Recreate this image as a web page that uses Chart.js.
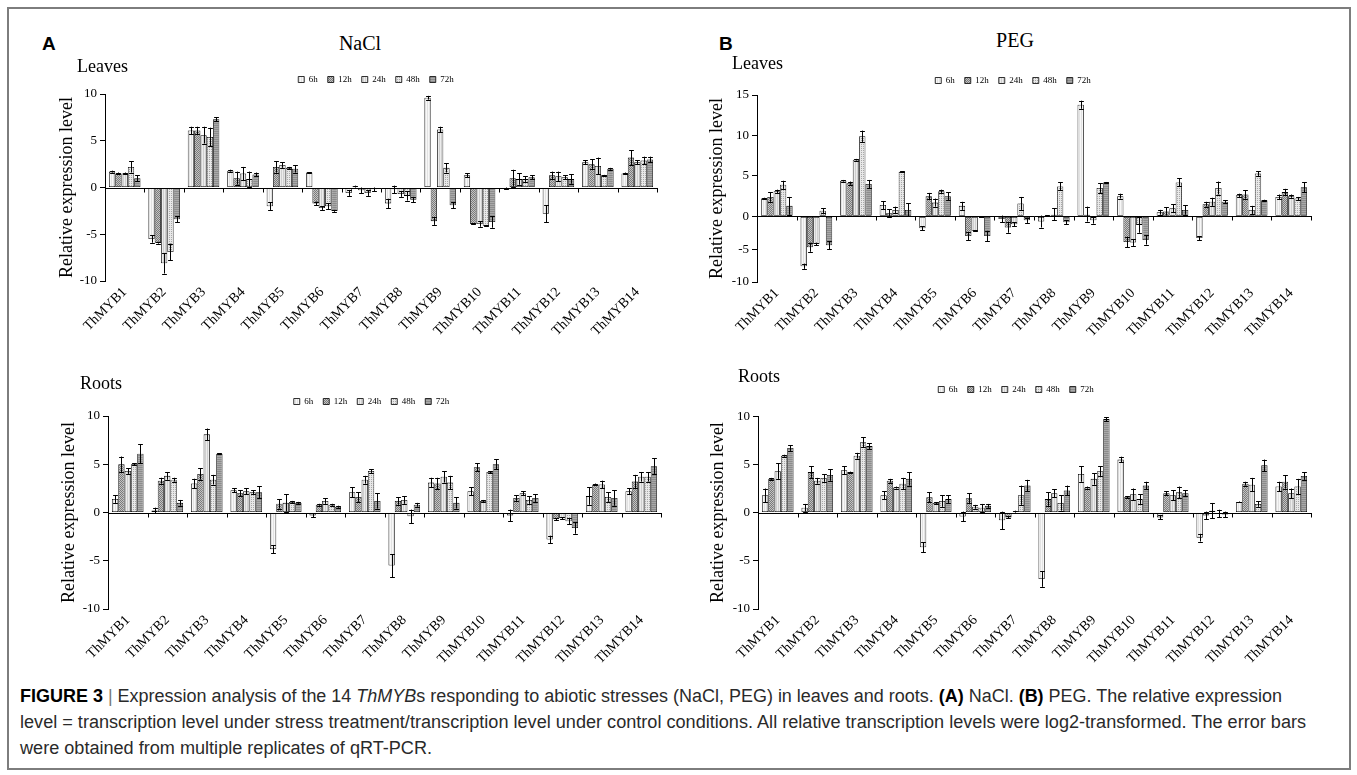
<!DOCTYPE html>
<html><head><meta charset="utf-8">
<script src="https://cdn.jsdelivr.net/npm/chart.js@4.4.1/dist/chart.umd.min.js"></script>
<style>
html,body{margin:0;padding:0;background:#fff;}
body{width:1357px;height:775px;position:relative;overflow:hidden;font-family:'Liberation Serif',serif;color:#000;}
.frame{position:absolute;left:7px;top:7px;width:1344px;height:763px;border:2px solid #7d7d7d;box-sizing:border-box;}
canvas{position:absolute;}
.t{position:absolute;white-space:nowrap;line-height:1;}
.c{transform:translate(-50%,-50%);}
.l{transform:translateY(-50%);}
.pl{font-family:'Liberation Sans',Arial,sans-serif;font-weight:bold;font-size:19px;}
.ttl{font-size:20px;}
.sub{font-size:18px;}
.cap{position:absolute;left:20px;white-space:nowrap;line-height:1;font-family:'Liberation Sans',Arial,sans-serif;font-size:18px;color:#2a2a2a;transform-origin:0 50%;}
.cap b{font-weight:bold;color:#000;}
.cap .bar{color:#777;}
</style></head>
<body>
<div class="frame"></div>
<canvas id="cAL" width="646" height="276" style="left:53px;top:65px"></canvas>
<canvas id="cAR" width="633" height="282" style="left:55px;top:387px"></canvas>
<canvas id="cBL" width="620" height="276" style="left:703px;top:66px"></canvas>
<canvas id="cBR" width="624" height="294" style="left:704px;top:375px"></canvas>

<div class="t l pl" style="left:42px;top:43px">A</div>
<div class="t c ttl" style="left:360px;top:43px">NaCl</div>
<div class="t l sub" style="left:77px;top:66px">Leaves</div>
<div class="t l sub" style="left:80px;top:383px">Roots</div>
<div class="t l pl" style="left:719px;top:43px">B</div>
<div class="t c ttl" style="left:1015px;top:40px">PEG</div>
<div class="t l sub" style="left:732px;top:63px">Leaves</div>
<div class="t l sub" style="left:738px;top:376px">Roots</div>

<div class="cap" id="cap1" style="top:687px"><b>FIGURE 3</b> <span class="bar">|</span> Expression analysis of the 14 <i>ThMYB</i>s responding to abiotic stresses (NaCl, PEG) in leaves and roots. <b>(A)</b> NaCl. <b>(B)</b> PEG. The relative expression</div>
<div class="cap" id="cap2" style="top:713px">level = transcription level under stress treatment/transcription level under control conditions. All relative transcription levels were log2-transformed. The error bars</div>
<div class="cap" id="cap3" style="top:739px">were obtained from multiple replicates of qRT-PCR.</div>

<script>
// ---------- data ----------
const categories = ['ThMYB1','ThMYB2','ThMYB3','ThMYB4','ThMYB5','ThMYB6','ThMYB7','ThMYB8','ThMYB9','ThMYB10','ThMYB11','ThMYB12','ThMYB13','ThMYB14'];
const timePoints = ['6h','12h','24h','48h','72h'];
const yRangeNaCl = [-10, 10];
const yRangePEGLeaves = [-10, 15];
const yRangePEGRoots = [-10, 10];

// rows = genes, columns = 6h,12h,24h,48h,72h
const naclLeaves = [
 [1.7,1.5,1.5,2.2,1.0],
 [-5.5,-5.9,-8.1,-6.9,-3.4],
 [6.1,6.1,5.6,5.4,7.3],
 [1.8,1.0,1.5,0.9,1.4],
 [-2.0,2.2,2.4,2.1,2.0],
 [1.6,-1.7,-2.2,-2.0,-2.5],
 [-0.6,0.1,-0.3,-0.6,-0.2],
 [-1.7,-0.2,-0.7,-0.9,-1.3],
 [9.6,-3.6,6.2,2.1,-1.9],
 [1.3,-3.9,-3.9,-4.1,-3.7],
 [-0.1,1.0,0.9,0.9,1.1],
 [-2.8,1.3,1.2,1.1,0.9],
 [2.7,2.5,2.3,1.3,2.0],
 [1.5,3.2,2.7,2.9,3.0]
];
const naclLeavesErr = [
 [0.1,0.1,0.1,0.6,0.3],
 [0.4,0.1,1.1,0.9,0.3],
 [0.4,0.4,0.9,1.0,0.2],
 [0.1,0.7,0.7,0.8,0.2],
 [0.4,0.6,0.3,0.1,0.4],
 [0.05,0.2,0.2,0.3,0.1],
 [0.3,0.1,0.3,0.3,0.2],
 [0.5,0.4,0.3,0.5,0.3],
 [0.2,0.4,0.3,0.5,0.3],
 [0.2,0.05,0.3,0.05,0.6],
 [0.1,0.9,0.6,0.3,0.2],
 [0.9,0.4,0.5,0.2,0.5],
 [0.2,0.5,0.9,0.05,0.1],
 [0.1,0.8,0.2,0.4,0.3]
];
const naclRoots = [
 [1.4,5.0,4.3,5.0,6.1],
 [0.2,3.3,3.8,3.4,1.0],
 [3.0,4.0,8.1,3.4,6.1],
 [2.3,2.0,2.2,2.1,2.1],
 [-3.8,0.9,1.0,1.1,1.0],
 [-0.3,0.8,1.2,0.8,0.6],
 [2.1,1.6,3.4,4.3,1.2],
 [-5.5,1.2,1.3,-0.4,0.8],
 [3.1,3.0,3.7,3.1,1.0],
 [2.2,4.7,1.2,4.2,5.0],
 [-0.3,1.5,2.0,1.3,1.5],
 [-2.8,-0.7,-0.6,-0.9,-1.6],
 [1.7,2.9,2.9,1.6,1.5],
 [2.2,3.2,3.7,3.7,4.8]
];
const naclRootsErr = [
 [0.4,0.8,0.3,0.1,1.0],
 [0.3,0.3,0.4,0.2,0.3],
 [0.5,0.6,0.6,0.5,0.05],
 [0.2,0.3,0.3,0.2,0.6],
 [0.4,0.5,0.9,0.1,0.1],
 [0.2,0.1,0.3,0.1,0.1],
 [0.5,0.5,0.4,0.2,0.8],
 [1.2,0.4,0.4,0.7,0.2],
 [0.5,0.6,0.6,0.7,0.6],
 [0.4,0.4,0.1,0.1,0.5],
 [0.6,0.3,0.2,0.4,0.4],
 [0.4,0.1,0.1,0.3,0.6],
 [0.9,0.1,0.4,0.5,0.8],
 [0.3,0.7,0.5,0.5,0.8]
];
const pegLeaves = [
 [2.2,2.4,3.1,3.9,1.3],
 [-7.6,-4.7,-4.2,0.7,-4.4],
 [4.4,4.1,7.0,9.9,4.0],
 [1.4,0.4,0.8,5.5,0.8],
 [-1.8,2.5,1.7,3.1,2.5],
 [1.3,-3.0,-2.2,-0.1,-3.0],
 [-0.4,-1.7,-1.2,1.6,-0.6],
 [-0.8,0.1,0.2,3.7,-0.9],
 [13.8,0.2,-0.6,3.5,4.2],
 [2.5,-3.9,-4.0,-1.3,-3.6],
 [0.5,0.6,1.0,4.2,0.8],
 [-3.3,1.5,1.8,3.5,1.8],
 [2.6,2.7,0.8,5.3,2.0],
 [2.4,3.0,2.5,2.2,3.6]
];
const pegLeavesErr = [
 [0.1,0.6,0.2,0.5,1.1],
 [0.4,0.7,0.2,0.3,0.6],
 [0.1,0.2,0.1,0.7,0.5],
 [0.5,0.5,0.4,0.05,0.8],
 [0.3,0.4,0.5,0.2,0.5],
 [0.5,0.6,0.05,0.05,0.8],
 [0.5,0.8,0.3,0.8,0.4],
 [0.9,0.05,0.8,0.5,0.3],
 [0.5,1.0,0.5,0.6,0.05],
 [0.3,0.8,0.5,1.2,0.7],
 [0.3,0.5,0.5,0.5,0.6],
 [0.3,0.3,0.5,0.8,0.2],
 [0.2,0.5,0.5,0.3,0.05],
 [0.3,0.4,0.2,0.2,0.6]
];
const pegRoots = [
 [1.8,3.5,4.3,5.9,6.7],
 [0.5,4.2,3.3,3.6,3.9],
 [4.4,4.2,5.9,7.3,6.9],
 [1.8,3.3,2.6,3.0,3.5],
 [-3.6,1.6,1.0,1.2,1.4],
 [-0.4,1.5,0.6,0.5,0.7],
 [-0.8,-0.5,0.1,1.8,2.8],
 [-6.9,1.4,2.0,1.0,2.3],
 [4.0,2.6,3.5,4.3,9.7],
 [5.5,1.6,1.9,1.4,2.8],
 [-0.5,2.0,1.8,2.1,2.0],
 [-2.6,-0.3,0.2,-0.1,-0.2],
 [1.1,3.0,2.9,0.9,4.9],
 [2.7,3.2,2.0,2.7,3.8]
];
const pegRootsErr = [
 [0.7,0.1,0.8,0.1,0.3],
 [0.4,0.6,0.3,0.4,0.6],
 [0.4,0.05,0.3,0.5,0.3],
 [0.4,0.2,0.1,0.6,0.7],
 [0.5,0.5,0.1,0.6,0.4],
 [0.5,0.5,0.2,0.4,0.2],
 [0.9,0.1,0.1,1.0,0.6],
 [0.8,0.7,0.4,0.8,0.5],
 [0.8,0.1,0.6,0.5,0.2],
 [0.3,0.1,0.6,0.5,0.4],
 [0.2,0.2,0.5,0.6,0.3],
 [0.4,0.4,0.8,0.4,0.3],
 [0.05,0.2,0.7,0.3,0.6],
 [0.5,0.7,0.5,0.8,0.4]
];

// ---------- y scale with separate spacing above / below zero (as in panel B leaves) ----------
class SplitLinearScale extends Chart.LinearScale {
  _zeroPx() {
    const f = this.options.zeroFraction;
    const frac = (typeof f === 'number') ? f : this.max / (this.max - this.min);
    return this.top + (this.bottom - this.top) * frac;
  }
  getPixelForValue(value) {
    const z = this._zeroPx();
    if (value >= 0) return z - (value / this.max) * (z - this.top);
    return z + (value / this.min) * (this.bottom - z);
  }
  getValueForPixel(pixel) {
    const z = this._zeroPx();
    if (pixel <= z) return (z - pixel) / (z - this.top) * this.max;
    return (pixel - z) / (this.bottom - z) * this.min;
  }
}
SplitLinearScale.id = 'splitLinear';
SplitLinearScale.defaults = Chart.LinearScale.defaults;
Chart.register(SplitLinearScale);

// ---------- styles ----------
function makePattern(bg, fg, kind){
  const c = document.createElement('canvas'); c.width = 4; c.height = 4;
  const g = c.getContext('2d');
  g.fillStyle = bg; g.fillRect(0,0,4,4);
  g.fillStyle = fg;
  if (kind === 'dots') { g.fillRect(0,0,1,1); g.fillRect(2,2,1,1); g.fillRect(2,0,1,1); g.fillRect(0,2,1,1); }
  else if (kind === 'check') { g.fillRect(0,0,1,1); g.fillRect(2,0,1,1); g.fillRect(1,1,1,1); g.fillRect(3,1,1,1); g.fillRect(0,2,1,1); g.fillRect(2,2,1,1); g.fillRect(1,3,1,1); g.fillRect(3,3,1,1); }
  else if (kind === 'vlines') { g.fillRect(0,0,1,4); g.fillRect(2,0,1,4); }
  else if (kind === 'hlines') { g.fillRect(0,0,4,1); g.fillRect(0,2,4,1); }
  return document.createElement('canvas').getContext('2d').createPattern(c, 'repeat');
}
const fills = [
  makePattern('#f7f7f7', '#e2e2e2', 'vlines'),
  makePattern('#c4c4c4', '#7a7a7a', 'check'),
  makePattern('#ececec', '#cfcfcf', 'vlines'),
  makePattern('#e8e8e8', '#a8a8a8', 'dots'),
  makePattern('#a9a9a9', '#8c8c8c', 'hlines')
];

const SERIF = 'Liberation Serif, Times New Roman, serif';
Chart.defaults.font.family = SERIF;
Chart.defaults.color = '#000';

const axisPlugin = {
  id: 'errAndZero',
  afterDatasetsDraw(chart) {
    const ctx = chart.ctx, xs = chart.scales.x, ys = chart.scales.y, ca = chart.chartArea;
    ctx.save();
    ctx.strokeStyle = '#000'; ctx.lineWidth = 1;
    chart.data.datasets.forEach((ds, di) => {
      const meta = chart.getDatasetMeta(di);
      meta.data.forEach((bar, i) => {
        const v = ds.data[i], e = ds.errors[i];
        const yt = ys.getPixelForValue(v + e), yb = ys.getPixelForValue(v - e);
        const cx = Math.round(bar.x) + 0.5, hw = Math.max(2, bar.width * 0.38);
        ctx.beginPath();
        ctx.moveTo(cx, yt); ctx.lineTo(cx, yb);
        ctx.moveTo(cx - hw, Math.round(yt) + 0.5); ctx.lineTo(cx + hw, Math.round(yt) + 0.5);
        ctx.moveTo(cx - hw, Math.round(yb) + 0.5); ctx.lineTo(cx + hw, Math.round(yb) + 0.5);
        ctx.stroke();
      });
    });
    const y0 = Math.round(ys.getPixelForValue(0)) + 0.5;
    ctx.beginPath();
    ctx.moveTo(ca.left, y0); ctx.lineTo(ca.right + 1, y0);
    for (let i = 0; i <= categories.length; i++) {
      const px = Math.round(xs.getPixelForValue(i - 0.5)) + 0.5;
      ctx.moveTo(px, y0); ctx.lineTo(px, y0 + 4);
    }
    ctx.stroke();
    ctx.restore();
  }
};

function buildPanel(id, values, errors, yRange, yWidth, padRight, spacer, zeroFraction) {
  const datasets = timePoints.map((tp, k) => ({
    label: tp,
    data: values.map(r => r[k]),
    errors: errors.map(r => r[k]),
    backgroundColor: fills[k],
    borderColor: '#000',
    borderWidth: 0.8,
    borderSkipped: false,
    categoryPercentage: 0.8,
    barPercentage: 1.0
  }));
  return new Chart(document.getElementById(id), {
    type: 'bar',
    data: { labels: categories, datasets },
    plugins: [axisPlugin],
    options: {
      responsive: false, animation: false, devicePixelRatio: 1,
      layout: { padding: 0 },
      plugins: {
        legend: {
          display: true, position: 'top', align: 'center',
          labels: { boxWidth: 6, boxHeight: 6, padding: 10, font: { size: 9, family: SERIF }, color: '#000' }
        },
        title: { display: spacer > 0, text: '', weight: 100, font: { size: 1 }, padding: { top: 0, bottom: spacer } },
        tooltip: { enabled: false }
      },
      scales: {
        x: {
          grid: { display: false, drawTicks: false },
          border: { display: false },
          ticks: { autoSkip: false, minRotation: 45, maxRotation: 45, padding: 3, font: { size: 14, family: SERIF }, color: '#000' },
          afterFit(s) { s.height = 60; }
        },
        y: {
          type: 'splitLinear',
          zeroFraction: zeroFraction,
          min: yRange[0], max: yRange[1],
          ticks: { stepSize: 5, font: { size: 13, family: SERIF }, color: '#000', padding: 3 },
          grid: { drawOnChartArea: false, drawTicks: true, tickLength: 5, color: '#000' },
          border: { display: true, color: '#000', width: 1 },
          title: { display: true, text: 'Relative expression level', font: { size: 18, family: SERIF }, color: '#000', padding: { top: 3, bottom: 4 } },
          afterFit(s) { s.width = yWidth; }
        },
        pad: {
          type: 'linear', position: 'right', display: true,
          grid: { display: false }, border: { display: false }, ticks: { display: false },
          afterFit(s) { s.width = padRight; }
        }
      }
    }
  });
}

const charts = [
  buildPanel('cAL', naclLeaves, naclLeavesErr, yRangeNaCl, 52, 42, 0, null),
  buildPanel('cAR', naclRoots, naclRootsErr, yRangeNaCl, 53, 27, 0, null),
  buildPanel('cBL', pegLeaves, pegLeavesErr, yRangePEGLeaves, 54, 12, 0, 0.649),
  buildPanel('cBR', pegRoots, pegRootsErr, yRangePEGRoots, 54, 17, 11, null)
];

function fitCaption() {
  [['cap1', 1262], ['cap2', 1286], ['cap3', 412]].forEach(([id, w]) => {
    const el = document.getElementById(id);
    el.style.transform = 'none';
    const s = w / el.getBoundingClientRect().width;
    el.style.transform = 'scaleX(' + s.toFixed(4) + ')';
  });
}
fitCaption();
if (document.fonts && document.fonts.load) {
  Promise.all([
    document.fonts.load('13px "Liberation Serif"'),
    document.fonts.load('18px "Liberation Sans"')
  ]).then(() => { charts.forEach(c => c.update('none')); fitCaption(); });
}
</script>
</body></html>
